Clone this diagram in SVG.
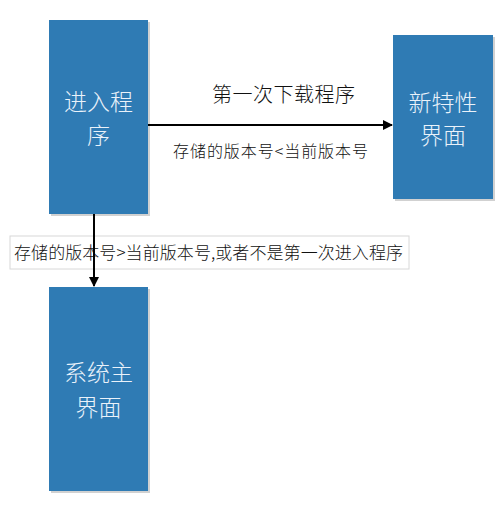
<svg xmlns="http://www.w3.org/2000/svg" width="503" height="505" viewBox="0 0 503 505">
<style>
.node{fill:#2F7BB4}
.shadow{fill:#000;opacity:0.18}
.nt{font-family:"Noto Sans CJK SC","Liberation Sans",sans-serif;font-size:23px;font-weight:300;fill:#EAF2FA;text-anchor:middle}
.lbl{font-family:"Noto Sans CJK SC","Liberation Sans",sans-serif;font-weight:300;fill:#111}
.edge{stroke:#000;stroke-width:2;fill:none}
</style>
<defs>
<marker id="ah" viewBox="0 0 10 10" refX="9" refY="5" markerWidth="5" markerHeight="5" orient="auto" markerUnits="strokeWidth">
<path d="M0,0 L10,5 L0,10 z" fill="#000"/>
</marker>
</defs>
<rect width="503" height="505" fill="#fff"/>
<g id="node-enter">
<rect class="shadow" x="51" y="22" width="99" height="194"/>
<rect class="node" x="49" y="20" width="99" height="194"/>
<text class="nt" x="98.5" y="110">进入程</text>
<text class="nt" x="98.5" y="144">序</text>
</g>
<g id="node-newfeature">
<rect class="shadow" x="395" y="37" width="100" height="164"/>
<rect class="node" x="393" y="35" width="100" height="164"/>
<text class="nt" x="443" y="111">新特性</text>
<text class="nt" x="443" y="144">界面</text>
</g>
<g id="node-main">
<rect class="shadow" x="51" y="289" width="99" height="204"/>
<rect class="node" x="49" y="287" width="99" height="204"/>
<text class="nt" x="98.5" y="381">系统主</text>
<text class="nt" x="98.5" y="416">界面</text>
</g>
<g id="connectors">
<line class="edge" x1="148" y1="125" x2="392" y2="125" marker-end="url(#ah)"/>
<text class="lbl" x="212" y="102" font-size="20" textLength="143" lengthAdjust="spacing">第一次下载程序</text>
<text class="lbl" x="173" y="157" font-size="16" textLength="195" lengthAdjust="spacing">存储的版本号&lt;当前版本号</text>
<rect x="10" y="236" width="399" height="33" fill="#fff" stroke="#D8D8D8" stroke-width="1"/>
<text class="lbl" x="14" y="259" font-size="17" textLength="389" lengthAdjust="spacing">存储的版本号&gt;当前版本号,或者不是第一次进入程序</text>
<line class="edge" x1="94" y1="214" x2="94" y2="286" marker-end="url(#ah)"/>
</g>
</svg>
